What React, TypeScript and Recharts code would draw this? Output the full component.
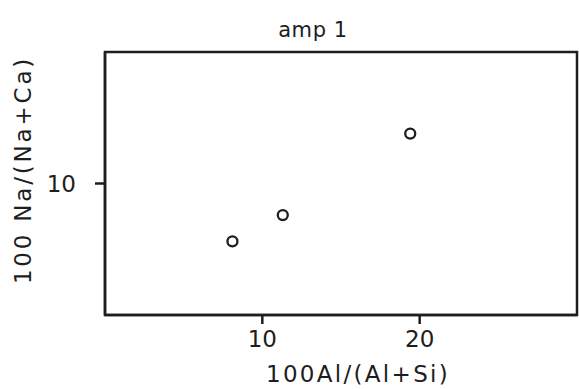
import React from 'react';
import { ScatterChart, Scatter, XAxis, YAxis, Label, ReferenceArea } from 'recharts';

// 100Al/(Al+Si) vs 100Na/(Na+Ca)
const alSi = [8.1, 11.3, 19.4];
const naCa = [5.6, 7.6, 13.8];
const xTicks = [10, 20];
const yTicks = [10];
const xDomain = [0, 30];
const yDomain = [0, 20];

const points = alSi.map((x, i) => ({ x, y: naCa[i] }));

const font = '"DejaVu Sans", sans-serif';
const ink = '#1e1e1e';

const Ring = (props: any) => (
    <circle cx={props.cx} cy={props.cy} r={5} fill="#fff" stroke={ink} strokeWidth={2.3} />
);

const App: React.FC = () => {
    return (
        <div style={{ position: 'absolute', left: 0, top: 0, background: '#fff' }}>
            <ScatterChart width={579} height={389} margin={{ top: 52, right: 2, bottom: 0, left: 0 }}>
                <XAxis
                    type="number"
                    dataKey="x"
                    domain={xDomain}
                    ticks={xTicks}
                    height={74}
                    tickSize={9}
                    tickMargin={7}
                    axisLine={{ stroke: ink, strokeWidth: 2.5 }}
                    tickLine={{ stroke: ink, strokeWidth: 2.5 }}
                    tick={{ fill: ink, fontSize: 23, fontFamily: font }}
                >
                    <Label
                        content={() => (
                            <g>
                                <text x={358} y={382} textAnchor="middle" fill={ink} fontSize={23} fontFamily={font} letterSpacing={2.3}>
                                    100Al/(Al+Si)
                                </text>
                                <text x={313} y={37} textAnchor="middle" fill={ink} fontSize={21} fontFamily={font} letterSpacing={0.6}>
                                    amp 1
                                </text>
                            </g>
                        )}
                    />
                </XAxis>
                <YAxis
                    type="number"
                    dataKey="y"
                    domain={yDomain}
                    ticks={yTicks}
                    width={105}
                    tickSize={10}
                    tickMargin={19}
                    axisLine={{ stroke: ink, strokeWidth: 2.5 }}
                    tickLine={{ stroke: ink, strokeWidth: 2.5 }}
                    tick={{ fill: ink, fontSize: 23, fontFamily: font }}
                >
                    <Label
                        content={() => (
                            <text
                                x={23}
                                y={170}
                                transform="rotate(-90 23 170)"
                                textAnchor="middle"
                                dominantBaseline="central"
                                fill={ink}
                                fontSize={23}
                                fontFamily={font}
                                letterSpacing={2.8}
                            >
                                100 Na/(Na+Ca)
                            </text>
                        )}
                    />
                </YAxis>
                <ReferenceArea
                    x1={xDomain[0]}
                    x2={xDomain[1]}
                    y1={yDomain[0]}
                    y2={yDomain[1]}
                    fill="none"
                    fillOpacity={0}
                    stroke={ink}
                    strokeWidth={2.5}
                    strokeOpacity={1}
                />
                <Scatter data={points} shape={Ring} isAnimationActive={false} />
            </ScatterChart>
        </div>
    );
};

export default App;
